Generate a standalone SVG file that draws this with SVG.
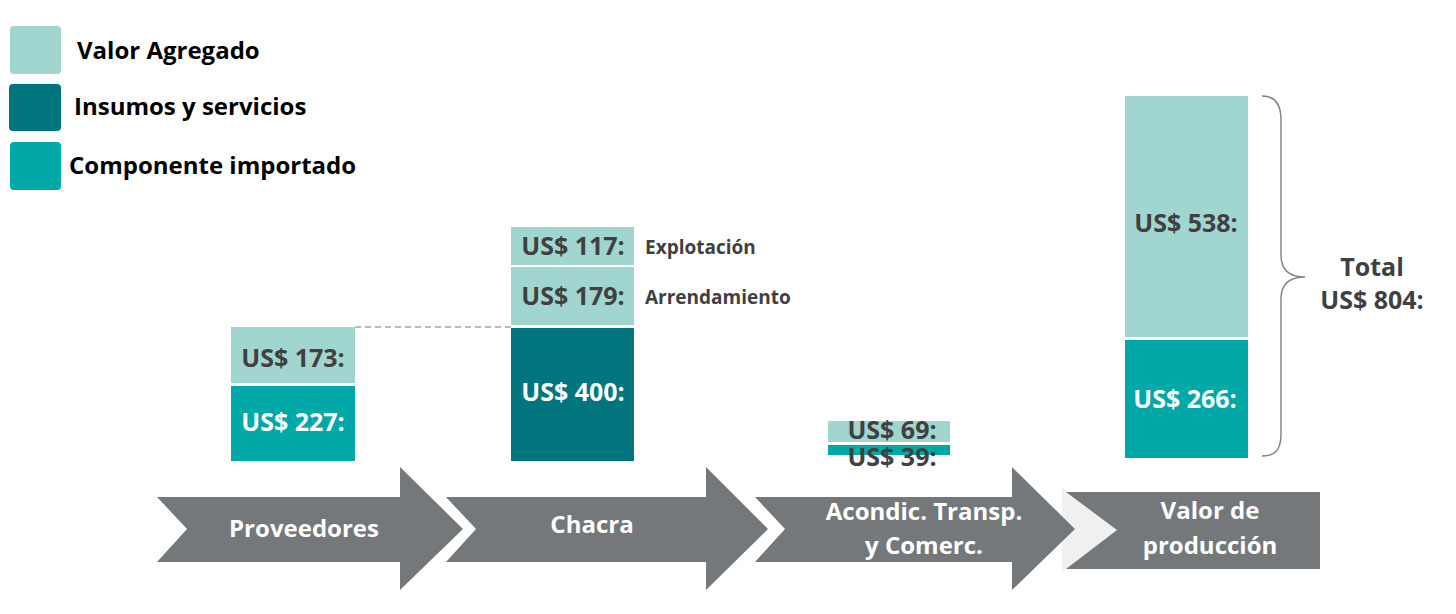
<svg xmlns="http://www.w3.org/2000/svg" width="1456" height="614" viewBox="0 0 1456 614">
<style>
text{font-family:"Open Sans","Liberation Sans",sans-serif;font-weight:700}
.leg{font-size:24px;fill:#000}
.val{font-size:25px;text-anchor:middle}
.dk{fill:#404040}
.wh{fill:#ffffff}
.side{font-size:19px;fill:#404040}
.arr{fill:#75787B}
.atx{font-size:24px;fill:#ffffff;text-anchor:middle}
.lt{fill:#A0D5D0}
.tl{fill:#00A9A8}
.dt{fill:#00757D}
</style>
<rect width="1456" height="614" fill="#ffffff"/>
<g id="legend">
<rect class="lt" x="10" y="26" width="51" height="48" rx="4"/>
<rect class="dt" x="9" y="84" width="52" height="47" rx="4"/>
<rect class="tl" x="10" y="142" width="51" height="48" rx="4"/>
<text class="leg" x="77" y="59">Valor Agregado</text>
<text class="leg" x="74" y="115">Insumos y servicios</text>
<text class="leg" x="69" y="174">Componente importado</text>
</g>
<g id="connectors">
<line x1="355" y1="327" x2="511" y2="327" stroke="#A6A6A6" stroke-width="1.5" stroke-dasharray="6,4"/>
<path d="M1262,96 C1275,96 1281,104 1281,120 L1281,255 C1281,270 1290,277 1305,277 C1290,277 1281,284 1281,299 L1281,434 C1281,450 1275,456 1262,456" fill="none" stroke="#7F7F7F" stroke-width="1.4"/>
</g>
<g id="bar-proveedores">
<rect class="lt" x="231" y="327" width="124" height="56"/>
<rect class="tl" x="231" y="386" width="124" height="75"/>
<text class="val dk" x="293" y="367">US$ 173:</text>
<text class="val wh" x="293" y="431">US$ 227:</text>
</g>
<g id="bar-chacra">
<rect class="lt" x="511" y="227" width="123" height="38"/>
<rect class="lt" x="511" y="267" width="123" height="58"/>
<rect class="dt" x="511" y="328" width="123" height="133"/>
<text class="val dk" x="573" y="255">US$ 117:</text>
<text class="val dk" x="573" y="305">US$ 179:</text>
<text class="val wh" x="573" y="401">US$ 400:</text>
<text class="side" x="645" y="254">Explotación</text>
<text class="side" x="645" y="304">Arrendamiento</text>
</g>
<g id="bar-acondic">
<rect class="lt" x="828" y="421" width="122" height="21"/>
<rect class="tl" x="828" y="445" width="122" height="10"/>
<text class="val dk" x="892" y="439">US$ 69:</text>
<text class="val dk" x="892" y="466">US$ 39:</text>
</g>
<g id="bar-valor">
<rect class="lt" x="1125" y="96" width="123" height="241"/>
<rect class="tl" x="1125" y="340" width="123" height="118"/>
<text class="val dk" x="1186" y="232">US$ 538:</text>
<text class="val wh" x="1185" y="408">US$ 266:</text>
<text class="val dk" x="1372" y="276">Total</text>
<text class="val dk" x="1372" y="309">US$ 804:</text>
</g>
<g id="step-valor">
<path d="M1062,488 L1124,530 L1062,572 Z" fill="#F0F0F0"/>
<path class="arr" d="M1066,492 L1320,492 L1320,569 L1066,569 L1117,530 Z"/>
<text class="atx" x="1210" y="519">Valor de</text>
<text class="atx" x="1210" y="554">producción</text>
</g>
<g id="step-proveedores">
<path class="arr" d="M157,497 L400,497 L400,467 L463,529 L400,590 L400,562 L157,562 L187,529 Z"/>
<text class="atx" x="304" y="537">Proveedores</text>
</g>
<g id="step-chacra">
<path class="arr" d="M446,497 L706,497 L706,467 L768,529 L706,590 L706,562 L446,562 L476,529 Z"/>
<text class="atx" x="592" y="533">Chacra</text>
</g>
<g id="step-acondic">
<path class="arr" d="M755,497 L1012,497 L1012,467 L1075,529 L1012,590 L1012,562 L755,562 L785,529 Z"/>
<text class="atx" x="924" y="520">Acondic. Transp.</text>
<text class="atx" x="924" y="554">y Comerc.</text>
</g>
</svg>
